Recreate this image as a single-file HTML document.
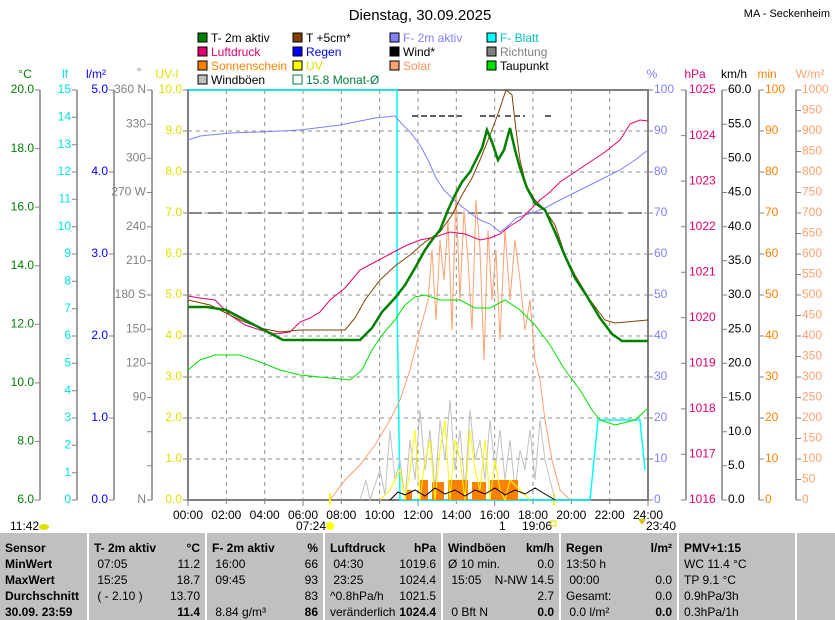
<!DOCTYPE html>
<html><head><meta charset="utf-8"><style>
body{margin:0;background:#fff;width:835px;height:620px;overflow:hidden;font-family:"Liberation Sans",sans-serif}
svg text{font-family:"Liberation Sans",sans-serif;font-size:12px}
.tb{position:absolute;left:0;top:533px;width:835px;height:87px;background:#c0c0c0}
.c{position:absolute;top:0;height:87px;border-left:2px solid #fff;font-size:12px;line-height:16px;padding-top:7px;box-sizing:border-box}
.r{display:flex;justify-content:space-between;padding:0 5px;height:16px}
b{font-weight:bold}
</style></head><body>
<svg width="835" height="533" style="position:absolute;left:0;top:0">
<text x="420" y="20" text-anchor="middle" style="font-size:15px">Dienstag, 30.09.2025</text>
<text x="830" y="17" text-anchor="end" style="font-size:11px">MA - Seckenheim</text>
<!-- legend -->
<g style="font-size:11.5px">
<rect x="198" y="33" width="9" height="9" fill="#008000" stroke="#000"/><text x="211" y="42">T- 2m aktiv</text>
<rect x="293" y="33" width="9" height="9" fill="#804000" stroke="#000"/><text x="306" y="42">T +5cm*</text>
<rect x="390" y="33" width="9" height="9" fill="#8080ff" stroke="#000"/><text x="403" y="42" fill="#8080ff">F- 2m aktiv</text>
<rect x="487" y="33" width="9" height="9" fill="#00ffff" stroke="#000"/><text x="500" y="42" fill="#00c0c0">F- Blatt</text>
<rect x="198" y="47" width="9" height="9" fill="#e00070" stroke="#000"/><text x="211" y="56" fill="#e00070">Luftdruck</text>
<rect x="293" y="47" width="9" height="9" fill="#0000ff" stroke="#000"/><text x="306" y="56" fill="#0000ff">Regen</text>
<rect x="390" y="47" width="9" height="9" fill="#000" stroke="#000"/><text x="403" y="56">Wind*</text>
<rect x="487" y="47" width="9" height="9" fill="#808080" stroke="#000"/><text x="500" y="56" fill="#808080">Richtung</text>
<rect x="198" y="61" width="9" height="9" fill="#ff8000" stroke="#000"/><text x="211" y="70" fill="#ff8000">Sonnenschein</text>
<rect x="293" y="61" width="9" height="9" fill="#ffff00" stroke="#000"/><text x="306" y="70" fill="#e0e000">UV</text>
<rect x="390" y="61" width="9" height="9" fill="#ffa070" stroke="#000"/><text x="403" y="70" fill="#ff9060">Solar</text>
<rect x="487" y="61" width="9" height="9" fill="#00e000" stroke="#000"/><text x="500" y="70">Taupunkt</text>
<rect x="198" y="75" width="9" height="9" fill="#c0c0c0" stroke="#000"/><text x="211" y="84">Windböen</text>
<rect x="293" y="75" width="9" height="9" fill="#fff" stroke="#008040"/><text x="306" y="84" fill="#008040">15.8 Monat-Ø</text>
</g>
<!-- unit labels -->
<text x="25" y="78" text-anchor="middle" fill="#008000">°C</text>
<text x="65" y="78" text-anchor="middle" fill="#00e0e0">lf</text>
<text x="96" y="78" text-anchor="middle" fill="#0000ff">l/m²</text>
<text x="139" y="76" text-anchor="middle" fill="#808080">°</text>
<text x="167" y="78" text-anchor="middle" fill="#e0e000">UV-I</text>
<text x="652" y="78" text-anchor="middle" fill="#8080ff">%</text>
<text x="695" y="78" text-anchor="middle" fill="#e00070">hPa</text>
<text x="734" y="78" text-anchor="middle">km/h</text>
<text x="767" y="78" text-anchor="middle" fill="#ff8000">min</text>
<text x="810" y="78" text-anchor="middle" fill="#ffa070">W/m²</text>
<!-- axis lines -->
<g stroke="#808080" stroke-width="1.5">
<line x1="40" y1="90" x2="40" y2="500"/><line x1="77" y1="90" x2="77" y2="500"/><line x1="114" y1="90" x2="114" y2="500"/><line x1="152" y1="90" x2="152" y2="500"/>
<line x1="686" y1="90" x2="686" y2="500"/><line x1="722" y1="90" x2="722" y2="500"/><line x1="759" y1="90" x2="759" y2="500"/><line x1="796" y1="90" x2="796" y2="500"/>
</g>
<g stroke="#808080">
<path d="M35 90h5M35 148.6h5M35 207.1h5M35 265.7h5M35 324.3h5M35 382.9h5M35 441.4h5M35 500h5"/>
<path d="M72 90h5M72 117.3h5M72 144.7h5M72 172h5M72 199.3h5M72 226.7h5M72 254h5M72 281.3h5M72 308.7h5M72 336h5M72 363.3h5M72 390.7h5M72 418h5M72 445.3h5M72 472.7h5M72 500h5"/>
<path d="M109 90h5M109 172h5M109 254h5M109 336h5M109 418h5M109 500h5"/>
<path d="M147 90h5M147 124.2h5M147 158.3h5M147 192.5h5M147 226.7h5M147 260.8h5M147 295h5M147 329.2h5M147 363.3h5M147 397.5h5M147 431.7h5M147 465.8h5M147 500h5"/>
<path d="M183 90h5M183 131h5M183 172h5M183 213h5M183 254h5M183 295h5M183 336h5M183 377h5M183 418h5M183 459h5M183 500h5"/>
<path d="M648 90h5M648 131h5M648 172h5M648 213h5M648 254h5M648 295h5M648 336h5M648 377h5M648 418h5M648 459h5M648 500h5"/>
<path d="M681 90h5M681 135.6h5M681 181.1h5M681 226.7h5M681 272.2h5M681 317.8h5M681 363.3h5M681 408.9h5M681 454.4h5M681 500h5"/>
<path d="M722 90h5M722 124.2h5M722 158.3h5M722 192.5h5M722 226.7h5M722 260.8h5M722 295h5M722 329.2h5M722 363.3h5M722 397.5h5M722 431.7h5M722 465.8h5M722 500h5"/>
<path d="M759 90h5M759 131h5M759 172h5M759 213h5M759 254h5M759 295h5M759 336h5M759 377h5M759 418h5M759 459h5M759 500h5"/>
<path d="M796 90h5M796 110.5h5M796 131h5M796 151.5h5M796 172h5M796 192.5h5M796 213h5M796 233.5h5M796 254h5M796 274.5h5M796 295h5M796 315.5h5M796 336h5M796 356.5h5M796 377h5M796 397.5h5M796 418h5M796 438.5h5M796 459h5M796 479.5h5M796 500h5"/>
</g>
<g text-anchor="end" fill="#008000" dominant-baseline="middle" style="font-size:12.5px">
<text x="34" y="90">20.0</text><text x="34" y="148.6">18.0</text><text x="34" y="207.1">16.0</text><text x="34" y="265.7">14.0</text><text x="34" y="324.3">12.0</text><text x="34" y="382.9">10.0</text><text x="34" y="441.4">8.0</text><text x="34" y="500">6.0</text>
</g>
<g text-anchor="end" fill="#00e0e0" dominant-baseline="middle">
<text x="71" y="90">15</text><text x="71" y="117.3">14</text><text x="71" y="144.7">13</text><text x="71" y="172">12</text><text x="71" y="199.3">11</text><text x="71" y="226.7">10</text><text x="71" y="254">9</text><text x="71" y="281.3">8</text><text x="71" y="308.7">7</text><text x="71" y="336">6</text><text x="71" y="363.3">5</text><text x="71" y="390.7">4</text><text x="71" y="418">3</text><text x="71" y="445.3">2</text><text x="71" y="472.7">1</text><text x="71" y="500">0</text>
</g>
<g text-anchor="end" fill="#0000ff" dominant-baseline="middle">
<text x="108" y="90">5.0</text><text x="108" y="172">4.0</text><text x="108" y="254">3.0</text><text x="108" y="336">2.0</text><text x="108" y="418">1.0</text><text x="108" y="500">0.0</text>
</g>
<g text-anchor="end" fill="#808080" dominant-baseline="middle">
<text x="146" y="90">360 N</text><text x="146" y="124.2">330</text><text x="146" y="158.3">300</text><text x="146" y="192.5">270 W</text><text x="146" y="226.7">240</text><text x="146" y="260.8">210</text><text x="146" y="295">180 S</text><text x="146" y="329.2">150</text><text x="146" y="363.3">120</text><text x="146" y="397.5">90</text><text x="146" y="500">N</text>
</g>
<g text-anchor="end" fill="#e0e000" dominant-baseline="middle">
<text x="182" y="90">10.0</text><text x="182" y="131">9.0</text><text x="182" y="172">8.0</text><text x="182" y="213">7.0</text><text x="182" y="254">6.0</text><text x="182" y="295">5.0</text><text x="182" y="336">4.0</text><text x="182" y="377">3.0</text><text x="182" y="418">2.0</text><text x="182" y="459">1.0</text><text x="182" y="500">0.0</text>
</g>
<g fill="#8080ff" dominant-baseline="middle">
<text x="654" y="90">100</text><text x="654" y="131">90</text><text x="654" y="172">80</text><text x="654" y="213">70</text><text x="654" y="254">60</text><text x="654" y="295">50</text><text x="654" y="336">40</text><text x="654" y="377">30</text><text x="654" y="418">20</text><text x="654" y="459">10</text><text x="654" y="500">0</text>
</g>
<g fill="#e00070" dominant-baseline="middle">
<text x="689" y="90">1025</text><text x="689" y="135.6">1024</text><text x="689" y="181.1">1023</text><text x="689" y="226.7">1022</text><text x="689" y="272.2">1021</text><text x="689" y="317.8">1020</text><text x="689" y="363.3">1019</text><text x="689" y="408.9">1018</text><text x="689" y="454.4">1017</text><text x="689" y="500">1016</text>
</g>
<g dominant-baseline="middle">
<text x="728" y="90">60.0</text><text x="728" y="124.2">55.0</text><text x="728" y="158.3">50.0</text><text x="728" y="192.5">45.0</text><text x="728" y="226.7">40.0</text><text x="728" y="260.8">35.0</text><text x="728" y="295">30.0</text><text x="728" y="329.2">25.0</text><text x="728" y="363.3">20.0</text><text x="728" y="397.5">15.0</text><text x="728" y="431.7">10.0</text><text x="728" y="465.8">5.0</text><text x="728" y="500">0.0</text>
</g>
<g fill="#ff8000" dominant-baseline="middle">
<text x="765" y="90">100</text><text x="765" y="131">90</text><text x="765" y="172">80</text><text x="765" y="213">70</text><text x="765" y="254">60</text><text x="765" y="295">50</text><text x="765" y="336">40</text><text x="765" y="377">30</text><text x="765" y="418">20</text><text x="765" y="459">10</text><text x="765" y="500">0</text>
</g>
<g fill="#ffa070" dominant-baseline="middle">
<text x="802" y="90">1000</text><text x="802" y="110.5">950</text><text x="802" y="131">900</text><text x="802" y="151.5">850</text><text x="802" y="172">800</text><text x="802" y="192.5">750</text><text x="802" y="213">700</text><text x="802" y="233.5">650</text><text x="802" y="254">600</text><text x="802" y="274.5">550</text><text x="802" y="295">500</text><text x="802" y="315.5">450</text><text x="802" y="336">400</text><text x="802" y="356.5">350</text><text x="802" y="377">300</text><text x="802" y="397.5">250</text><text x="802" y="418">200</text><text x="802" y="438.5">150</text><text x="802" y="459">100</text><text x="802" y="479.5">50</text><text x="802" y="500">0</text>
</g>
<!-- grid -->
<g stroke="#909090" stroke-dasharray="4,4" stroke-width="1">
<path d="M188 131H648M188 172H648M188 254H648M188 295H648M188 336H648M188 377H648M188 418H648M188 459H648M188 213H648"/>
<path d="M226.3 90V500M264.7 90V500M303 90V500M341.3 90V500M379.7 90V500M418 90V500M456.3 90V500M494.7 90V500M533 90V500M571.3 90V500M609.7 90V500"/>
</g>
<line x1="188" y1="213" x2="648" y2="213" stroke="#606060" stroke-width="1.5" stroke-dasharray="14,6"/>
<rect x="188" y="90" width="460" height="410" fill="none" stroke="#808080" stroke-width="2"/>
<!-- Ticks bottom -->
<path d="M188 500v6M226.3 500v4M264.7 500v4M303 500v6M341.3 500v4M379.7 500v4M418 500v6M456.3 500v4M494.7 500v6M533 500v4M571.3 500v4M609.7 500v4M648 500v6" stroke="#808080"/>
<g text-anchor="middle">
<text x="188" y="519">00:00</text><text x="226.3" y="519">02:00</text><text x="264.7" y="519">04:00</text><text x="303" y="519">06:00</text><text x="341.3" y="519">08:00</text><text x="379.7" y="519">10:00</text><text x="418" y="519">12:00</text><text x="456.3" y="519">14:00</text><text x="494.7" y="519">16:00</text><text x="533" y="519">18:00</text><text x="571.3" y="519">20:00</text><text x="609.7" y="519">22:00</text><text x="648" y="519">24:00</text>
</g>
<text x="10" y="530">11:42</text><ellipse cx="44" cy="527" rx="5" ry="3" fill="#e0e000"/>
<text x="296" y="530">07:24</text><circle cx="330" cy="526" r="4" fill="#ffff00"/>
<text x="499" y="530">1</text><text x="522" y="530">19:06</text><rect x="551" y="521" width="5" height="5" fill="none" stroke="#e0e000"/>
<text x="646" y="530">23:40</text><path d="M638 519l4 6 4-6z" fill="#e0c000"/>
<line x1="330" y1="493" x2="330" y2="505" stroke="#ffff00" stroke-width="2"/>
<line x1="554" y1="493" x2="554" y2="505" stroke="#ffff00" stroke-width="2"/>
<!-- series -->
<polyline fill="none" stroke="#00ffff" stroke-width="1.5" points="188,90 397,90 397,300 400,500 590,500 598,420 630,420 640,420 645,470"/>
<polyline fill="none" stroke="#ffa070" stroke-width="1" points="330,500 345,480 360,465 375,445 390,420 400,400 410,370 420,330 428,300 432,250 436,320 440,240 444,280 448,220 452,330 456,190 460,300 464,210 468,260 472,330 476,200 480,250 484,360 488,230 492,300 496,250 500,340 505,230 510,300 515,240 520,280 525,330 530,300 535,360 540,380 545,420 552,460 560,490 570,500"/>
<polyline fill="none" stroke="#c0c0c0" stroke-width="1" points="360,500 366,480 370,500 380,470 385,495 390,430 395,480 400,460 405,500 410,440 415,480 420,410 425,470 430,430 435,490 440,420 445,460 450,400 455,470 460,430 465,490 470,410 475,460 480,440 485,480 490,420 495,470 500,430 505,480 510,440 515,490 520,450 525,470 530,430 535,480 540,420 545,460 550,480 555,500"/>
<g fill="#ff8000"><rect x="420" y="480" width="8" height="20"/><rect x="432" y="482" width="12" height="18"/><rect x="448" y="480" width="20" height="20"/><rect x="472" y="482" width="14" height="18"/><rect x="490" y="480" width="28" height="20"/><rect x="406" y="490" width="6" height="10"/></g>
<polyline fill="none" stroke="#ffff00" stroke-width="1" points="380,500 390,490 400,470 405,500 410,470 415,430 420,500 425,460 430,440 435,500 440,450 445,420 450,500 455,440 460,460 465,500 470,430 475,470 480,490 485,440 490,500 495,460 500,490 505,500 510,480 520,490 530,500"/>
<polyline fill="none" stroke="#000" stroke-width="1" points="390,500 398,492 405,495 415,490 425,496 435,488 445,494 455,490 465,496 475,490 485,494 495,488 505,495 515,490 525,494 535,488 545,494 555,500"/>
<polyline fill="none" stroke="#00e000" stroke-width="1" points="188,370 200,360 215,355 240,355 260,362 280,370 300,375 330,378 350,380 362,370 372,350 382,335 395,320 405,305 415,297 425,295 440,300 460,300 475,308 490,308 505,300 520,310 535,325 550,345 565,370 580,390 592,410 600,420 615,425 635,420 648,408"/>
<polyline fill="none" stroke="#8080ff" stroke-width="1" points="188,140 200,136 230,133 260,132 300,130 340,125 375,118 395,116 402,124 410,132 420,145 428,160 436,178 444,190 452,198 460,205 470,213 480,220 490,224 500,232 508,226 516,218 525,215 535,212 545,208 560,200 580,190 600,180 620,170 635,160 648,150"/>
<polyline fill="none" stroke="#e00070" stroke-width="1" points="188,296 200,298 215,300 230,315 245,325 260,330 275,334 290,332 300,322 310,318 320,312 330,300 345,288 360,270 375,262 390,254 405,246 420,240 435,237 450,232 465,234 480,240 490,238 500,234 510,226 520,220 530,210 540,200 550,192 560,182 575,172 590,162 605,152 620,140 630,124 640,120 648,121"/>
<polyline fill="none" stroke="#804000" stroke-width="1" points="188,300 210,305 240,320 260,328 280,332 300,330 345,330 355,318 365,300 380,280 395,266 410,255 425,242 440,232 452,215 462,195 472,178 480,160 488,140 495,122 500,108 506,90 512,95 516,130 520,160 526,185 535,200 545,210 555,225 565,255 575,275 590,300 605,320 615,323 648,320"/>
<polyline fill="none" stroke="#008000" stroke-width="2.5" points="188,307 207,307 226,310 245,320 264,330 283,340 302,340 340,340 360,340 372,328 382,312 395,298 405,285 415,268 425,250 432,240 440,230 448,210 455,195 462,182 470,172 476,160 482,148 487,130 492,142 498,160 504,150 510,128 515,150 520,168 527,188 535,203 545,210 555,232 565,256 575,278 588,298 600,318 612,334 622,341 648,341"/>
<path d="M412 116h50M480 116h20M505 116h20M545 116h6" stroke="#606060" stroke-width="2" stroke-dasharray="6,3"/>
</svg>
<div class="tb">
<div class="c" style="left:0;width:87px;border:none"><div class="r"><b>Sensor</b></div><div class="r"><b>MinWert</b></div><div class="r"><b>MaxWert</b></div><div class="r"><b>Durchschnitt</b></div><div class="r"><b>30.09. 23:59</b></div></div>
<div class="c" style="left:87px;width:118px"><div class="r"><b>T- 2m aktiv</b><b>°C</b></div><div class="r"><span>&nbsp;07:05</span><span>11.2</span></div><div class="r"><span>&nbsp;15:25</span><span>18.7</span></div><div class="r"><span>&nbsp;( - 2.10 )</span><span>13.70</span></div><div class="r"><span></span><b>11.4</b></div></div>
<div class="c" style="left:205px;width:118px"><div class="r"><b>F- 2m aktiv</b><b>%</b></div><div class="r"><span>&nbsp;16:00</span><span>66</span></div><div class="r"><span>&nbsp;09:45</span><span>93</span></div><div class="r"><span></span><span>83</span></div><div class="r"><span>&nbsp;8.84 g/m³</span><b>86</b></div></div>
<div class="c" style="left:323px;width:118px"><div class="r"><b>Luftdruck</b><b>hPa</b></div><div class="r"><span>&nbsp;04:30</span><span>1019.6</span></div><div class="r"><span>&nbsp;23:25</span><span>1024.4</span></div><div class="r"><span>^0.8hPa/h</span><span>1021.5</span></div><div class="r"><span>veränderlich</span><b>1024.4</b></div></div>
<div class="c" style="left:441px;width:118px"><div class="r"><b>Windböen</b><b>km/h</b></div><div class="r"><span>Ø 10 min.</span><span>0.0</span></div><div class="r"><span>&nbsp;15:05</span><span>N-NW 14.5</span></div><div class="r"><span></span><span>2.7</span></div><div class="r"><span>&nbsp;0 Bft N</span><b>0.0</b></div></div>
<div class="c" style="left:559px;width:118px"><div class="r"><b>Regen</b><b>l/m²</b></div><div class="r"><span>13:50 h</span><span></span></div><div class="r"><span>&nbsp;00:00</span><span>0.0</span></div><div class="r"><span>Gesamt:</span><span>0.0</span></div><div class="r"><span>&nbsp;0.0 l/m²</span><b>0.0</b></div></div>
<div class="c" style="left:677px;width:118px"><div class="r"><b>PMV+1:15</b></div><div class="r"><span>WC 11.4 °C</span></div><div class="r"><span>TP 9.1 °C</span></div><div class="r"><span>0.9hPa/3h</span></div><div class="r"><span>0.3hPa/1h</span></div></div>
<div class="c" style="left:795px;width:40px"></div>
</div>
</body></html>
